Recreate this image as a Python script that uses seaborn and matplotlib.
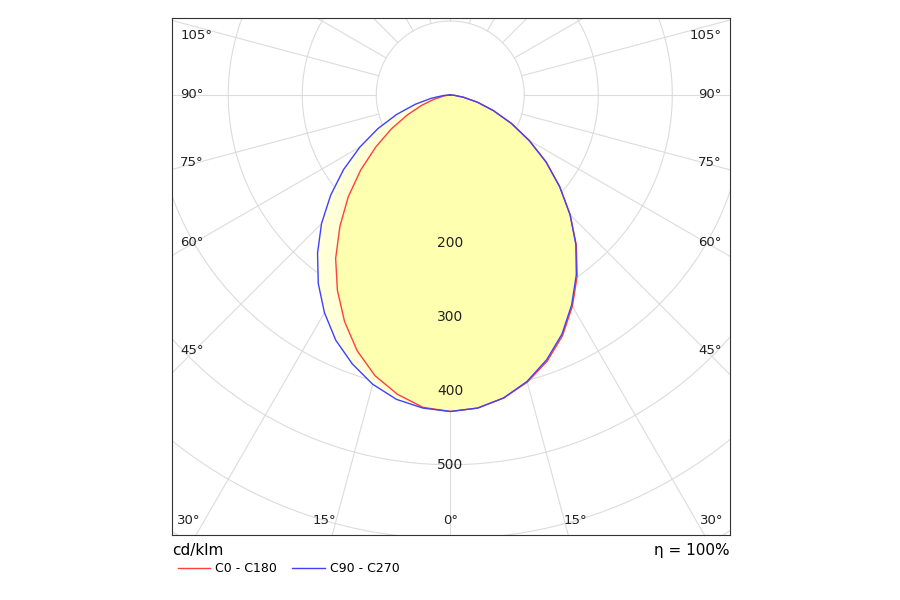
import numpy as np
import pandas as pd
import matplotlib
matplotlib.use("Agg")
import matplotlib.pyplot as plt
from matplotlib.lines import Line2D
import seaborn as sns

gamma = [0, 5, 10, 15, 20, 25, 30, 35, 40, 45, 50, 55, 60, 65, 70, 75, 80, 85, 90]
c0 = [428, 425, 416, 402, 383, 359, 330, 299, 265, 229, 193, 158, 123, 91, 62, 38, 18, 5, 0]
c180 = [428, 424, 411, 393, 368, 338, 305, 270, 232, 195, 158, 123, 92, 64, 41, 23, 10, 3, 0]
c90 = [428, 425, 416, 401, 381, 357, 328, 297, 264, 229, 193, 158, 123, 91, 62, 38, 18, 5, 0]
c270 = [428, 425, 418, 405, 387, 366, 340, 311, 279, 246, 211, 176, 141, 108, 77, 49, 26, 9, 0]
radial_labels = [200, 300, 400, 500]
side_angles = [45, 60, 75, 90, 105]
side_label_y = [-345, -199, -92, 0, 80]
bottom_angles = [0, 15, 30]

def curve(right, left):
    g = np.radians(gamma)
    r = np.array(right, float); l = np.array(left, float)
    x = np.concatenate([-(l * np.sin(g))[::-1], r * np.sin(g)])
    y = np.concatenate([-(l * np.cos(g))[::-1], -r * np.cos(g)])
    return pd.DataFrame({"x": x, "y": y, "o": np.arange(len(x))})

red = curve(c0, c180)
blue = curve(c90, c270)

fig = plt.figure(figsize=(9, 6), dpi=100)
ax = fig.add_axes([172/900, 65/600, 558/900, 517/600])
ax.set_xlim(-376, 378)
ax.set_ylim(-595, 104)
ax.set_aspect("auto")

gc = "#dcdcdc"
t = np.linspace(0, 2*np.pi, 400)
for r in range(100, 1100, 100):
    ax.plot(r*np.cos(t), r*np.sin(t), color=gc, lw=0.8, zorder=1)
for a in range(0, 360, 15):
    ar = np.radians(a)
    ax.plot([100*np.sin(ar), 1200*np.sin(ar)], [-100*np.cos(ar), -1200*np.cos(ar)], color=gc, lw=0.8, zorder=1)

ax.fill(blue.x, blue.y, color="#ffffd8", zorder=2)
ax.fill(red.x, red.y, color="#ffffb0", zorder=3)
sns.lineplot(data=red, x="x", y="y", sort=False, color="#ff4040", lw=1, ax=ax, zorder=4, estimator=None)
sns.lineplot(data=blue, x="x", y="y", sort=False, color="#4040ff", lw=1, ax=ax, zorder=5, estimator=None)

for v in radial_labels:
    ax.text(0, -v, str(v), ha="center", va="center", fontsize=10, color="#222", zorder=6)
for a, y in zip(side_angles, side_label_y):
    ax.text(-365, y, f"{a}°", ha="left", va="center", fontsize=9.5, color="#222", zorder=6)
    ax.text(367, y, f"{a}°", ha="right", va="center", fontsize=9.5, color="#222", zorder=6)
for a in bottom_angles:
    x = 595*np.tan(np.radians(a))
    if a == 0:
        ax.text(0, -576, "0°", ha="center", va="center", fontsize=9.5, color="#222")
    else:
        ax.text(x + 10, -576, f"{a}°", ha="center", va="center", fontsize=9.5, color="#222")
        ax.text(-x - 10, -576, f"{a}°", ha="center", va="center", fontsize=9.5, color="#222")

ax.set_xticks([]); ax.set_yticks([])
ax.set_xlabel(""); ax.set_ylabel("")
for s in ax.spines.values():
    s.set_color("#333"); s.set_linewidth(0.8)
if ax.get_legend():
    ax.get_legend().remove()

fig.text(172/900, 1-550/600, "cd/klm", fontsize=11, va="center", ha="left")
fig.text(730/900, 1-550/600, "η = 100%", fontsize=11, va="center", ha="right")
fig.add_artist(Line2D([178/900, 210/900], [1-568/600]*2, color="#ff4040", lw=1))
fig.text(215/900, 1-568/600, "C0 - C180", fontsize=9, va="center")
fig.add_artist(Line2D([292/900, 325/900], [1-568/600]*2, color="#4040ff", lw=1))
fig.text(330/900, 1-568/600, "C90 - C270", fontsize=9, va="center")

fig.savefig("out.png", dpi=100, facecolor="white")
